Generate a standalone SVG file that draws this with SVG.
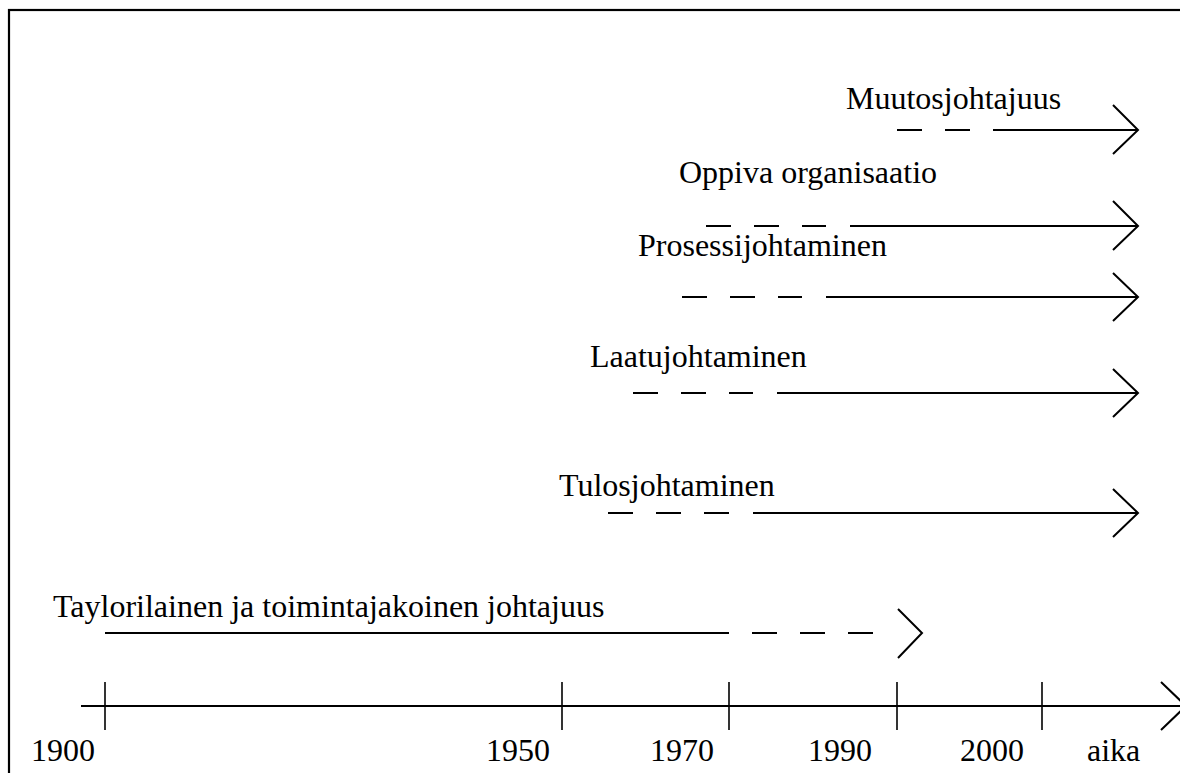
<svg xmlns="http://www.w3.org/2000/svg" width="1180" height="773" viewBox="0 0 1180 773">
<style>
text { font-family: "Liberation Serif", "Times New Roman", serif; font-size: 32px; fill: #000; }
.ln { stroke: #000; stroke-width: 2; fill: none; }
.dash { stroke: #000; stroke-width: 2; fill: none; stroke-dasharray: 25 23; }
.tick { stroke: #000; stroke-width: 1.6; fill: none; }
.head { stroke: #000; stroke-width: 2; fill: none; stroke-linejoin: miter; }
</style>
<rect x="0" y="0" width="1180" height="773" fill="#fff"/>
<rect x="9" y="10" width="1200" height="800" fill="none" stroke="#000" stroke-width="2.2"/>

<g id="connectors">
  <!-- Muutosjohtajuus -->
  <line class="dash" x1="897" y1="130" x2="970" y2="130"/>
  <line class="ln" x1="993" y1="130" x2="1138" y2="130"/>
  <polyline class="head" points="1113,105 1138,130 1113,154"/>
  <!-- Oppiva organisaatio -->
  <line class="dash" x1="706" y1="226" x2="826" y2="226"/>
  <line class="ln" x1="850" y1="226" x2="1138" y2="226"/>
  <polyline class="head" points="1113,201 1138,226 1113,250"/>
  <!-- Prosessijohtaminen -->
  <line class="dash" x1="682" y1="297" x2="802" y2="297"/>
  <line class="ln" x1="826" y1="297" x2="1138" y2="297"/>
  <polyline class="head" points="1113,273 1138,297 1113,321"/>
  <!-- Laatujohtaminen -->
  <line class="dash" x1="633" y1="393" x2="753" y2="393"/>
  <line class="ln" x1="777" y1="393" x2="1138" y2="393"/>
  <polyline class="head" points="1113,369 1138,393 1113,417"/>
  <!-- Tulosjohtaminen -->
  <line class="dash" x1="608" y1="513" x2="729" y2="513"/>
  <line class="ln" x1="753" y1="513" x2="1138" y2="513"/>
  <polyline class="head" points="1113,489 1138,513 1113,537"/>
  <!-- Taylorilainen -->
  <line class="ln" x1="105" y1="633" x2="729" y2="633"/>
  <line class="dash" x1="752" y1="633" x2="874" y2="633"/>
  <polyline class="head" points="898,609 922,633 898,658"/>
  <!-- Time axis -->
  <line class="ln" x1="81" y1="706" x2="1186" y2="706"/>
  <polyline class="head" points="1161,682 1186,706 1161,730"/>
  <line class="tick" x1="105" y1="682" x2="105" y2="730"/>
  <line class="tick" x1="562" y1="682" x2="562" y2="730"/>
  <line class="tick" x1="729" y1="682" x2="729" y2="730"/>
  <line class="tick" x1="897" y1="682" x2="897" y2="730"/>
  <line class="tick" x1="1042" y1="682" x2="1042" y2="730"/>
</g>

<g id="node-muutosjohtajuus"><text x="846" y="109">Muutosjohtajuus</text></g>
<g id="node-oppiva"><text x="679" y="183">Oppiva organisaatio</text></g>
<g id="node-prosessi"><text x="638" y="256">Prosessijohtaminen</text></g>
<g id="node-laatu"><text x="590" y="367">Laatujohtaminen</text></g>
<g id="node-tulos"><text x="559" y="496">Tulosjohtaminen</text></g>
<g id="node-taylor"><text x="53" y="617">Taylorilainen ja toimintajakoinen johtajuus</text></g>
<g id="axis-labels">
  <text x="31" y="761">1900</text>
  <text x="486" y="761">1950</text>
  <text x="650" y="761">1970</text>
  <text x="808" y="761">1990</text>
  <text x="960" y="761">2000</text>
  <text x="1087" y="761">aika</text>
</g>
</svg>
